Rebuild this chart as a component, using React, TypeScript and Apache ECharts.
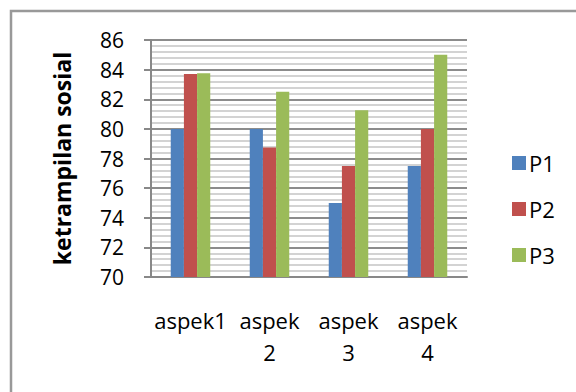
import React, { useEffect, useRef } from "react";
import * as echarts from "echarts";

const categories = ["aspek1", "aspek 2", "aspek 3", "aspek 4"];
const seriesNames = ["P1", "P2", "P3"];
const p1Values = [80, 80, 75, 77.5];
const p2Values = [83.7, 78.75, 77.5, 80];
const p3Values = [83.75, 82.5, 81.25, 85];
const seriesColors = ["#4F81BD", "#C0504D", "#9BBB59"];
const yAxisTitle = "ketrampilan sosial";
const yMin = 70;
const yMax = 86;
const yInterval = 2;

export default function App() {
  const ref = useRef<HTMLDivElement>(null);
  useEffect(() => {
    if (!ref.current) return;
    const chart = echarts.init(ref.current, null, { renderer: "svg" });
    const font = "'Open Sans', 'Noto Sans', sans-serif";
    const values = [p1Values, p2Values, p3Values];
    chart.setOption({
      animation: false,
      backgroundColor: "#ffffff",
      textStyle: { fontFamily: font, color: "#000" },
      graphic: [
        {
          type: "rect",
          shape: { x: 11, y: 11, width: 620, height: 430 },
          style: { fill: "none", stroke: "#999999", lineWidth: 2.5 },
          silent: true,
        },
      ],
      grid: { left: 151, right: 109, top: 40, bottom: 115, containLabel: false },
      legend: {
        orient: "vertical",
        left: 507,
        top: 147,
        itemWidth: 14,
        itemHeight: 14,
        itemGap: 24,
        icon: "rect",
        data: seriesNames,
        textStyle: { fontFamily: font, fontSize: 22, color: "#000", lineHeight: 22, padding: [0, 0, 0, -2] },
      },
      xAxis: {
        type: "category",
        data: categories,
        axisLine: { show: true, lineStyle: { color: "#888888", width: 2 } },
        axisTick: { show: false },
        axisLabel: {
          interval: 0,
          margin: 27,
          fontFamily: font,
          fontSize: 22,
          color: "#000",
          lineHeight: 32,
          formatter: (v: string) => v.replace(" ", "\n"),
        },
        splitLine: { show: false },
      },
      yAxis: {
        type: "value",
        min: yMin,
        max: yMax,
        interval: yInterval,
        name: yAxisTitle,
        nameLocation: "middle",
        nameGap: 78,
        nameTextStyle: { fontFamily: font, fontSize: 23, fontWeight: "bold", color: "#000" },
        axisLine: { show: true, lineStyle: { color: "#888888", width: 2 } },
        axisTick: { show: true, length: 7, inside: false, lineStyle: { color: "#888888", width: 2 } },
        axisLabel: { margin: 27, fontFamily: font, fontSize: 21, color: "#000" },
        splitLine: { show: true, lineStyle: { color: "#8c8c8c", width: 2 } },
        minorTick: { show: false, splitNumber: 5 },
        minorSplitLine: { show: true, lineStyle: { color: "#c4c4c4", width: 1.5 } },
      },
      series: seriesNames.map((name, i) => ({
        name,
        type: "bar",
        data: values[i],
        barGap: "0%",
        barCategoryGap: "50%",
        itemStyle: { color: seriesColors[i] },
      })),
    });
    return () => chart.dispose();
  }, []);
  return (
    <div
      ref={ref}
      style={{ position: "fixed", left: 0, top: 0, width: 576, height: 392 }}
    />
  );
}
